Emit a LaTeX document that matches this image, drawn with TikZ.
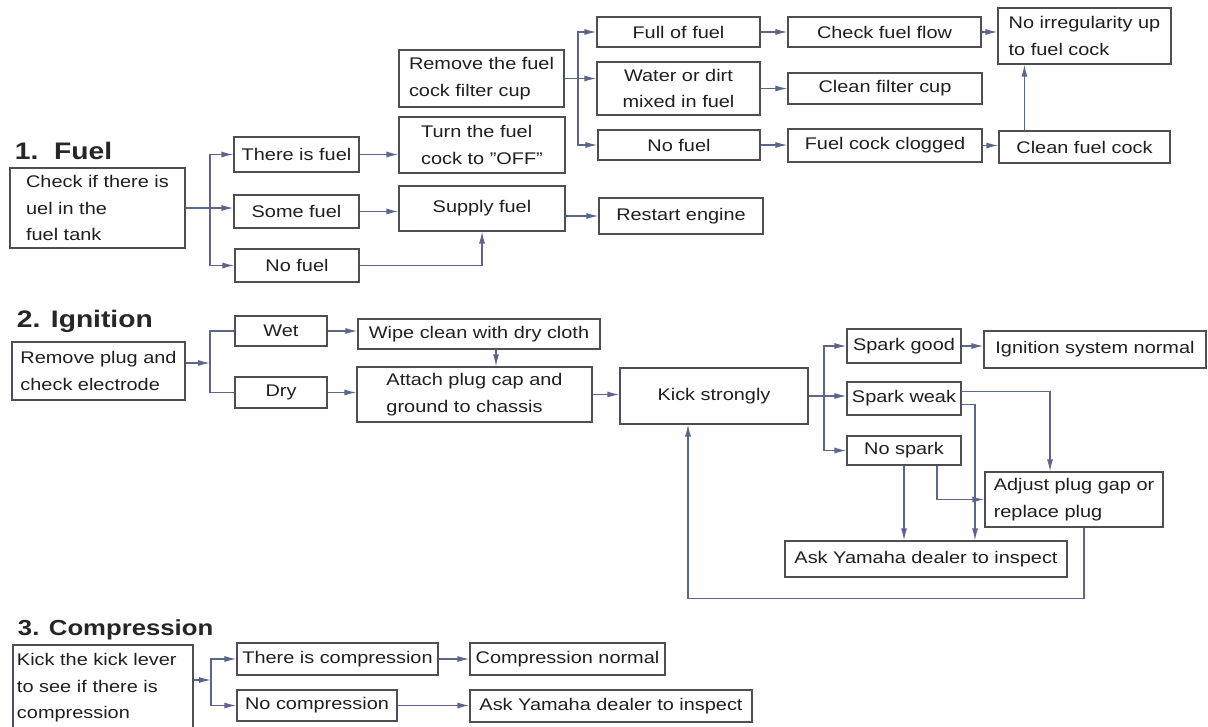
\documentclass[tikz,border=0pt]{standalone}
\usepackage{fontspec}
\setmainfont{Liberation Sans}[FakeStretch=1.18]
\usetikzlibrary{arrows.meta}
\definecolor{wirecol}{RGB}{92,102,140}
\definecolor{edgecol}{RGB}{78,78,84}
\begin{document}
\begin{tikzpicture}[x=0.025cm,y=-0.025cm,
  box/.style={draw=edgecol,line width=0.8pt,inner sep=2pt,align=center,text=black!88,
    font=\fontsize{12}{18.8}\selectfont},
  arr/.style={-{Latex[length=3mm,width=1.5mm]},draw=wirecol,line width=0.9pt},
  line/.style={draw=wirecol,line width=0.9pt},
  title/.style={anchor=base west,font=\bfseries\fontsize{17}{20}\selectfont,text=black!85},
]
\useasboundingbox[fill=white] (0,0) rectangle (1208,727);

\node[title] (fuel) at (10,160) {1.~~Fuel};
\node[box,minimum width=4.375cm,minimum height=2cm,align=left] (fcheck) at (97.5,208) {Check if there is\\uel in the\\fuel tank};
\node[box,minimum width=3.125cm,minimum height=0.875cm] (isfuel) at (296.5,154.5) {There is fuel};
\node[box,minimum width=3.125cm,minimum height=0.825cm] (somefuel) at (296.5,211.5) {Some fuel};
\node[box,minimum width=3.1cm,minimum height=0.825cm] (nofuel) at (297,265.5) {No fuel};
\node[box,minimum width=4.125cm,minimum height=1.425cm,align=left] (removecup) at (481.5,78.5) {Remove the fuel\\cock filter cup};
\node[box,minimum width=4.15cm,minimum height=1.4cm,align=left] (turnoff) at (482,145) {Turn the fuel\\cock to ''OFF''};
\node[box,minimum width=4.15cm,minimum height=1.125cm] (supply) at (482,208.5) {Supply fuel};
\node[box,minimum width=4.1cm,minimum height=0.9cm] (restart) at (681,216) {Restart engine};
\node[box,minimum width=4.075cm,minimum height=0.75cm] (fullfuel) at (678.5,32) {Full of fuel};
\node[box,minimum width=4.075cm,minimum height=1.325cm] (dirt) at (678.5,88.5) {Water or dirt\\mixed in fuel};
\node[box,minimum width=4.05cm,minimum height=0.75cm] (nofuelcup) at (679,145) {No fuel};
\node[box,minimum width=4.825cm,minimum height=0.75cm] (flow) at (884.5,32) {Check fuel flow};
\node[box,minimum width=4.85cm,minimum height=0.775cm] (cleancup) at (885,88.5) {Clean filter cup};
\node[box,minimum width=4.85cm,minimum height=0.825cm] (clogged) at (885,145.5) {Fuel cock clogged};
\node[box,minimum width=4.325cm,minimum height=1.4cm,align=left] (noirreg) at (1084.5,36) {No irregularity up\\to fuel cock};
\node[box,minimum width=4.275cm,minimum height=0.8cm] (cleancock) at (1084.5,147) {Clean fuel cock};

\coordinate (fj) at (210,208);
\coordinate (rj) at (578,78.5);
\draw[arr] (fcheck.east) -- (fcheck.east -| somefuel.west);
\draw[arr] (fj) |- (isfuel.west);
\draw[arr] (fj) |- (nofuel.west);
\draw[arr] (isfuel.east) -- (isfuel.east -| turnoff.west);
\draw[arr] (somefuel.east) -- (somefuel.east -| supply.west);
\draw[arr] (nofuel.east) -| (supply.south);
\draw[arr] (supply.east |- restart.west) -- (restart.west);
\draw[line] (removecup.east) -- (rj);
\draw[arr] (rj) |- (fullfuel.west);
\draw[arr] (rj) -- (rj -| dirt.west);
\draw[arr] (rj) |- (nofuelcup.west);
\draw[arr] (fullfuel) -- (flow);
\draw[arr] (dirt) -- (cleancup);
\draw[arr] (nofuelcup.east) -- (nofuelcup.east -| clogged.west);
\draw[arr] (clogged.east) -- (clogged.east -| cleancock.west);
\draw[arr] (flow.east) -- (flow.east -| noirreg.west);
\coordinate (cc) at ([xshift=0.65cm]cleancock.north west);
\draw[arr] (cc) -- (cc |- noirreg.south);

\node[title] (ign) at (12,328) {2. Ignition};
\node[box,minimum width=4.325cm,minimum height=1.45cm,align=left] (plug) at (98.5,371) {Remove plug and\\check electrode};
\node[box,minimum width=2.3cm,minimum height=0.75cm] (wet) at (281,331) {Wet};
\node[box,minimum width=2.3cm,minimum height=0.775cm] (dry) at (281,392.5) {Dry};
\node[box,minimum width=6.05cm,minimum height=0.75cm] (wipe) at (479,334) {Wipe clean with dry cloth};
\node[box,minimum width=5.875cm,minimum height=1.375cm,align=left] (attach) at (474.5,394.5) {Attach plug cap and\\ground to chassis};
\node[box,minimum width=4.7cm,minimum height=1.4cm] (kick) at (714,396) {Kick strongly};
\node[box,minimum width=2.85cm,minimum height=0.85cm] (good) at (904,346) {Spark good};
\node[box,minimum width=2.85cm,minimum height=0.825cm] (weak) at (904,398.5) {Spark weak};
\node[box,minimum width=2.85cm,minimum height=0.725cm] (nospark) at (904,450.5) {No spark};
\node[box,minimum width=5.55cm,minimum height=0.925cm] (normal) at (1095,349.5) {Ignition system normal};
\node[box,minimum width=4.45cm,minimum height=1.375cm,align=left] (adjust) at (1074,499.5) {Adjust plug gap or\\replace plug};
\node[box,minimum width=7.05cm,minimum height=0.9cm] (dealer) at (926,559) {Ask Yamaha dealer to inspect};

\coordinate (pj) at (210,363);
\coordinate (kj) at (824,396);
\draw[arr] (plug.east |- pj) -- (pj);
\draw[line] (wet.west) -| (pj) |- (dry.west);
\draw[arr] (wet.east) -- (wet.east -| wipe.west);
\draw[arr] (dry.east) -- (dry.east -| attach.west);
\coordinate (wa) at ([xshift=0.425cm]wipe.south);
\draw[arr] (wa) -- (wa |- attach.north);
\draw[arr] (attach.east) -- (attach.east -| kick.west);
\draw[arr] (kick.east) -- (kick.east -| weak.west);
\draw[arr] (kj) |- (good.west);
\draw[arr] (kj) |- (nospark.west);
\draw[arr] (good.east) -- (good.east -| normal.west);
\coordinate (w1) at ([yshift=-0.25cm]weak.north east);
\coordinate (w2) at ([yshift=0.275cm]weak.south east);
\draw[arr] (w1) -| ([xshift=-0.6cm]adjust.north);
\draw[arr] (w2) -| ([xshift=1.225cm]dealer.north);
\draw[arr] (nospark.south) -- (nospark.south |- dealer.north);
\coordinate (n1) at ([xshift=0.825cm]nospark.south);
\draw[arr] (n1) |- (adjust.west);
\coordinate (a1) at ([xshift=0.25cm]adjust.south);
\draw[arr] (a1) -- ++(0,71) -| ([xshift=-0.65cm]kick.south);

\node[title,font=\bfseries\fontsize{15.5}{20}\selectfont] (comp) at (13,635) {3. Compression};
\node[box,minimum width=4.5cm,minimum height=2.15cm,align=left,text width=4.3cm,inner xsep=0.1cm] (lever) at (103,688) {Kick the kick lever\\to see if there is\\compression};
\node[box,minimum width=5.025cm,minimum height=0.8cm] (iscomp) at (337.5,659) {There is compression};
\node[box,minimum width=4cm,minimum height=0.775cm] (nocomp) at (317,705.5) {No compression};
\node[box,minimum width=4.875cm,minimum height=0.8cm] (compnormal) at (567.5,659) {Compression normal};
\node[box,minimum width=7.05cm,minimum height=0.8cm] (compdealer) at (611,706) {Ask Yamaha dealer to inspect};

\coordinate (cj) at (211,680);
\draw[arr] (lever.east |- cj) -- (cj);
\draw[arr] (cj) |- (iscomp.west);
\draw[arr] (cj) |- (nocomp.west);
\draw[arr] (iscomp) -- (compnormal);
\draw[arr] (nocomp.east) -- (nocomp.east -| compdealer.west);
\end{tikzpicture}
\end{document}
